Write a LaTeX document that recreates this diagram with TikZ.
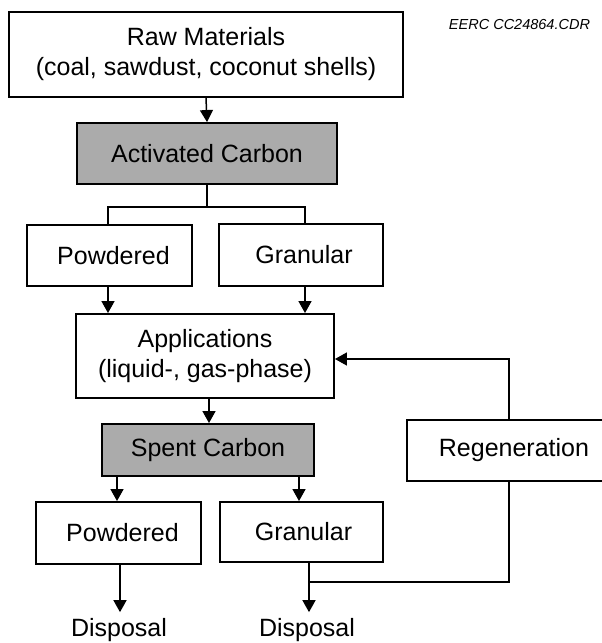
\documentclass[tikz,border=0pt]{standalone}
\usepackage{fontspec}
\setmainfont{Liberation Sans}
\usetikzlibrary{arrows.meta}
\begin{document}
\begin{tikzpicture}[x=1pt,y=-1pt,
  box/.style={draw, line width=1.9pt, rectangle, inner sep=0pt, align=center,
              font=\fontsize{25}{30}\selectfont},
  shaded/.style={fill=black!33},
  conn/.style={line width=1.5pt},
  arr/.style={conn, -{Triangle[width=13pt,length=12pt]}},
  lbl/.style={inner sep=0pt, font=\fontsize{25}{30}\selectfont}]
\useasboundingbox (0,0) rectangle (602,643);
\clip (0,0) rectangle (602,643);
\fill[white] (0,0) rectangle (602,643);

\node[box, minimum width=394pt, minimum height=85pt] (raw) at (206,54.5)
  {Raw Materials\\(coal, sawdust, coconut shells)};
\node[font=\fontsize{14.5}{17}\selectfont\itshape, inner sep=0pt] (eerc) at (519.5,25) {EERC CC24864.CDR};
\node[box, shaded, minimum width=260pt, minimum height=61pt] (act) at (207,153.5) {Activated Carbon};
\node[box, minimum width=165pt, minimum height=61pt] (pow1) at (109.5,255.5) {\hspace*{8pt}Powdered};
\node[box, minimum width=164pt, minimum height=62pt] (gra1) at (301,255) {\hspace*{6pt}Granular};
\node[box, minimum width=258pt, minimum height=84pt] (app) at (205,356) {Applications\\(liquid-, gas-phase)};
\node[box, shaded, minimum width=212pt, minimum height=52pt] (spent) at (208,450) {Spent Carbon};
\node[box, minimum width=214pt, minimum height=61pt] (regen) at (514,450.5) {Regeneration};
\node[box, minimum width=165pt, minimum height=62pt] (pow2) at (118.5,533) {\hspace*{8pt}Powdered};
\node[box, minimum width=163pt, minimum height=60pt] (gra2) at (301.5,532) {\hspace*{4pt}Granular};
\node[lbl] (disp1) at (119,630) {Disposal};
\node[lbl] (disp2) at (307,630) {Disposal};

\coordinate (c1) at (108,0);
\coordinate (c2) at (305,0);
\coordinate (c3) at (209,0);
\coordinate (c4) at (117,0);
\coordinate (c5) at (299,0);
\coordinate (c6) at (120,0);
\coordinate (c7) at (309,0);
\coordinate (c8) at (509,0);
\coordinate (c9) at (0,359);
\coordinate (j) at (207,207);
\coordinate (k) at (309,582);

\draw[arr] (raw.south) -- (act.north);
\draw[conn] (act.south) -- (j);
\draw[conn] (pow1.north -| c1) |- (j) -| (gra1.north -| c2);
\draw[arr] (pow1.south -| c1) -- (app.north -| c1);
\draw[arr] (gra1.south -| c2) -- (app.north -| c2);
\draw[arr] (app.south -| c3) -- (spent.north -| c3);
\draw[arr] (spent.south -| c4) -- (pow2.north -| c4);
\draw[arr] (spent.south -| c5) -- (gra2.north -| c5);
\draw[arr, shorten >=6pt] (pow2.south -| c6) -- (disp1.north -| c6);
\draw[arr, shorten >=6pt] (gra2.south -| c7) -- (disp2.north -| c7);
\draw[conn] (k) -| (regen.south -| c8);
\draw[arr] (regen.north -| c8) |- (app.east |- c9);
\end{tikzpicture}
\end{document}
